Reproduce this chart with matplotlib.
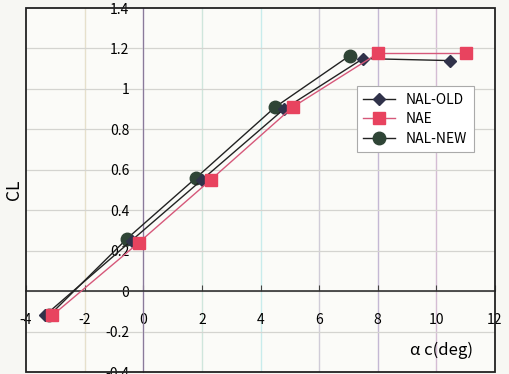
import matplotlib.pyplot as plt
from matplotlib.patches import Rectangle

# 数据
##################################################
nal_old_x = [-3.35, -0.4, 2.0, 4.8, 7.5, 10.45]
nal_old_y = [-0.12, 0.25, 0.55, 0.90, 1.15, 1.14]
nae_x = [-3.1, -0.15, 2.3, 5.1, 8.0, 11.0]
nae_y = [-0.12, 0.24, 0.55, 0.91, 1.175, 1.175]
nal_new_x = [-3.2, -0.55, 1.8, 4.5, 7.05]
nal_new_y = [-0.12, 0.26, 0.56, 0.91, 1.165]
xticks = [-4, -2, 0, 2, 4, 6, 8, 10, 12]
yticks = [-0.4, -0.2, 0, 0.2, 0.4, 0.6, 0.8, 1, 1.2, 1.4]
ytick_labels = ['-0.4', '-0.2', '0', '0.2', '0.4', '0.6', '0.8', '1', '1.2', '1.4']
##################################################

plt.rcParams['font.family'] = ['Noto Sans CJK JP', 'DejaVu Sans']

fig = plt.figure(figsize=(5.09, 3.74), dpi=100)
fig.patch.set_facecolor('#f7f7f3')
ax = fig.add_axes([26/509, 2/374, 469/509, 364/374])
ax.set_facecolor('#fbfbf8')

ax.set_xlim(-4, 12)
ax.set_ylim(-0.4, 1.4)

# 网格线
vcolors = ['#e6e0cc', '#b8a8c8', '#cfe6dc', '#c8ecec', '#d0ccd8', '#c4b8d4', '#d4bcd4']
for xv, c in zip(xticks[1:-1], vcolors):
    ax.axvline(xv, color=c, lw=1.0, zorder=0)
for yv in yticks[1:-1]:
    ax.axhline(yv, color='#d4d4d0', lw=0.9, zorder=0)

ax.plot(nal_new_x, nal_new_y, '-', color='#222222', lw=1.0, marker='o',
        ms=9, mfc='#2f4536', mec='#2f4536', label='NAL-NEW', zorder=3)
ax.plot(nal_old_x, nal_old_y, '-', color='#222222', lw=1.0, marker='D',
        ms=6.5, mfc='#30324a', mec='#30324a', label='NAL-OLD', zorder=4)
ax.plot(nae_x, nae_y, '-', color='#d6587a', lw=1.0, marker='s',
        ms=9, mfc='#e8435f', mec='#e8435f', label='NAE', zorder=5)

# 坐标轴在0处相交
for s in ['top', 'right']:
    ax.spines[s].set_visible(False)
ax.spines['left'].set_position(('data', 0))
ax.spines['bottom'].set_position(('data', 0))
ax.spines['left'].set_color('#8a7a9a')
ax.spines['bottom'].set_color('#333333')
ax.spines['bottom'].set_linewidth(1.2)
ax.add_patch(Rectangle((0, 0), 1, 1, transform=ax.transAxes, fill=False,
                       ec='#222222', lw=1.3, clip_on=False, zorder=6))

ax.set_xticks(xticks)
ax.set_xticklabels([str(v) for v in xticks], fontsize=10)
ax.set_yticks(yticks)
ax.set_yticklabels(ytick_labels, fontsize=10)
ax.tick_params(axis='x', direction='in', length=4, pad=16, color='#444444')
ax.tick_params(axis='y', length=0, pad=10)

ax.set_ylabel('CL', fontsize=12.5)
ax.yaxis.set_label_coords(-0.006, 0.5)
ax.text(0.885, 0.058, 'α c(deg)', transform=ax.transAxes, fontsize=12,
        ha='center', va='center')

h, l = ax.get_legend_handles_labels()
order = [1, 2, 0]
leg = ax.legend([h[i] for i in order], [l[i] for i in order], fontsize=10,
                loc='upper left', bbox_to_anchor=(0.705, 0.785), fancybox=False,
                framealpha=1, edgecolor='#aaaaaa', borderpad=0.45,
                handlelength=2.3, labelspacing=0.4, borderaxespad=0)
leg.get_frame().set_linewidth(0.8)

fig.savefig('out.png', dpi=100, facecolor=fig.get_facecolor())
